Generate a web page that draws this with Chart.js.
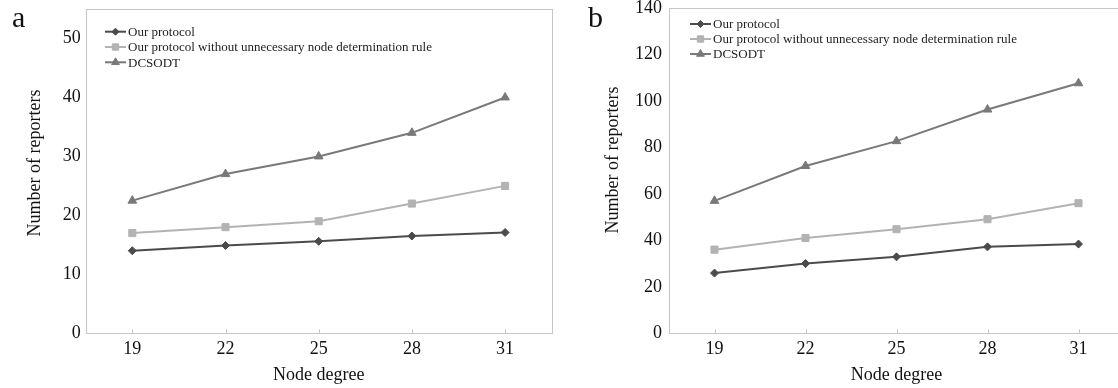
<!DOCTYPE html>
<html>
<head>
<meta charset="utf-8">
<script src="https://cdn.jsdelivr.net/npm/chart.js@4.4.0/dist/chart.umd.min.js"></script>
<style>
  html, body { margin: 0; padding: 0; background: #fff; width: 1118px; height: 388px; overflow: hidden; }
  .panel { position: absolute; top: 0; height: 388px; }
  #wrapA { left: 0; width: 560px; }
  #wrapB { left: 560px; width: 572px; }
</style>
</head>
<body>
<div class="panel" id="wrapA"><canvas id="chartA"></canvas></div>
<div class="panel" id="wrapB"><canvas id="chartB"></canvas></div>
<script>
// node degree on the x axis (both panels)
const nodeDegree = [19, 22, 25, 28, 31];
const seriesNames = ['Our protocol', 'Our protocol without unnecessary node determination rule', 'DCSODT'];

// panel a
const ourA = [14, 14.9, 15.6, 16.5, 17.1];
const noRuleA = [17, 18, 19, 22, 25];
const dcsodtA = [22.5, 27, 30, 34, 40];
const yTicksA = [0, 10, 20, 30, 40, 50];

// panel b
const ourB = [25.9, 30, 32.9, 37.2, 38.4];
const noRuleB = [36, 41, 44.8, 49.1, 56];
const dcsodtB = [57, 72, 82.7, 96.3, 107.6];
const yTicksB = [0, 20, 40, 60, 80, 100, 120, 140];

const FONT = '"Liberation Serif", "Times New Roman", serif';
const colors = ['#4b4b4b', '#b3b3b3', '#797979'];
const styles = ['rectRot', 'rect', 'triangle'];
const radii = [4, 5, 5];

function makeSets(vals) {
  return vals.map((v, i) => ({
    label: seriesNames[i],
    data: nodeDegree.map((x, j) => ({ x: x, y: v[j] })),
    borderColor: colors[i],
    backgroundColor: colors[i],
    borderWidth: 2,
    pointStyle: styles[i],
    pointRadius: radii[i],
    pointBorderWidth: 1,
    tension: 0
  }));
}

// frame, inner x tick marks, legend, y title and panel letter
const decor = {
  id: 'decor',
  beforeDatasetsDraw(chart, args, opts) {
    const { ctx, chartArea: a, scales: { x } } = chart;
    ctx.save();
    ctx.strokeStyle = '#c6c6c6';
    ctx.lineWidth = 1;
    ctx.strokeRect(Math.round(a.left) + 0.5, Math.round(a.top) + 0.5,
      Math.round(a.right - a.left), Math.round(a.bottom - a.top));
    x.ticks.forEach(t => {
      const px = Math.round(x.getPixelForValue(t.value)) + 0.5;
      ctx.beginPath();
      ctx.moveTo(px, a.bottom);
      ctx.lineTo(px, a.bottom - 4);
      ctx.stroke();
    });
    ctx.restore();
  },
  afterDraw(chart, args, opts) {
    const { ctx, chartArea: a } = chart;
    ctx.save();
    chart.data.datasets.forEach((ds, i) => {
      const lx = a.left + opts.legendX;
      const ly = a.top + opts.legendY + i * opts.legendGap;
      ctx.strokeStyle = ds.borderColor;
      ctx.fillStyle = ds.backgroundColor;
      ctx.lineWidth = 2;
      ctx.beginPath();
      ctx.moveTo(lx, ly);
      ctx.lineTo(lx + 21, ly);
      ctx.stroke();
      ctx.lineWidth = 1;
      Chart.helpers.drawPoint(ctx, { pointStyle: ds.pointStyle, radius: ds.pointRadius - 0.5, rotation: 0, borderWidth: 1 }, lx + 10.5, ly);
      ctx.fillStyle = '#222';
      ctx.font = '13px ' + FONT;
      ctx.textBaseline = 'middle';
      ctx.fillText(ds.label, lx + 23, ly + 1);
    });
    // y axis title
    ctx.fillStyle = '#111';
    ctx.font = '18px ' + FONT;
    ctx.textAlign = 'center';
    ctx.textBaseline = 'middle';
    ctx.translate(opts.titleX, opts.titleY);
    ctx.rotate(-Math.PI / 2);
    ctx.fillText('Number of reporters', 0, 0);
    ctx.setTransform(1, 0, 0, 1, 0, 0);
    // panel letter
    ctx.font = '30px ' + FONT;
    ctx.textAlign = 'left';
    ctx.textBaseline = 'alphabetic';
    ctx.fillText(opts.letter, opts.letterX, 27);
    ctx.restore();
  }
};

function makeChart(id, vals, yMax, yTicks, cfg) {
  return new Chart(document.getElementById(id), {
    type: 'line',
    data: { datasets: makeSets(vals) },
    options: {
      responsive: true,
      maintainAspectRatio: false,
      animation: false,
      events: [],
      layout: { padding: { top: cfg.top, right: cfg.right, left: 0, bottom: 0 } },
      plugins: {
        legend: { display: false },
        tooltip: { enabled: false },
        decor: cfg.decor
      },
      scales: {
        x: {
          type: 'linear',
          min: 17.5,
          max: 32.5,
          afterBuildTicks: s => { s.ticks = nodeDegree.map(v => ({ value: v })); },
          afterFit: s => { s.height = 54.7; s.paddingLeft = 0; s.paddingRight = 0; },
          grid: { display: false, drawTicks: false },
          border: { display: false },
          ticks: { color: '#111', font: { family: FONT, size: 18 }, padding: 5 },
          title: { display: true, text: 'Node degree', color: '#111', font: { family: FONT, size: 18 }, padding: { top: 0, bottom: 2 } }
        },
        y: {
          min: 0,
          max: yMax,
          afterBuildTicks: s => { s.ticks = yTicks.map(v => ({ value: v })); },
          afterFit: s => { s.width = cfg.left; s.paddingTop = 0; s.paddingBottom = 0; },
          grid: { display: false, drawTicks: false },
          border: { display: false },
          ticks: { color: '#111', font: { family: FONT, size: 18 }, padding: cfg.yPad },
          title: { display: false }
        }
      }
    },
    plugins: [decor]
  });
}

makeChart('chartA', [ourA, noRuleA, dcsodtA], 55, yTicksA, {
  top: 9, right: 8.3, left: 85.7, yPad: 5,
  decor: { legendX: 19.3, legendY: 22.7, legendGap: 15.3, letter: 'a', letterX: 12, titleX: 35, titleY: 163 }
});

makeChart('chartB', [ourB, noRuleB, dcsodtB], 140, yTicksB, {
  top: 8, right: 8, left: 109, yPad: 7,
  decor: { legendX: 21, legendY: 16, legendGap: 15, letter: 'b', letterX: 28, titleX: 53.5, titleY: 160 }
});
</script>
</body>
</html>
